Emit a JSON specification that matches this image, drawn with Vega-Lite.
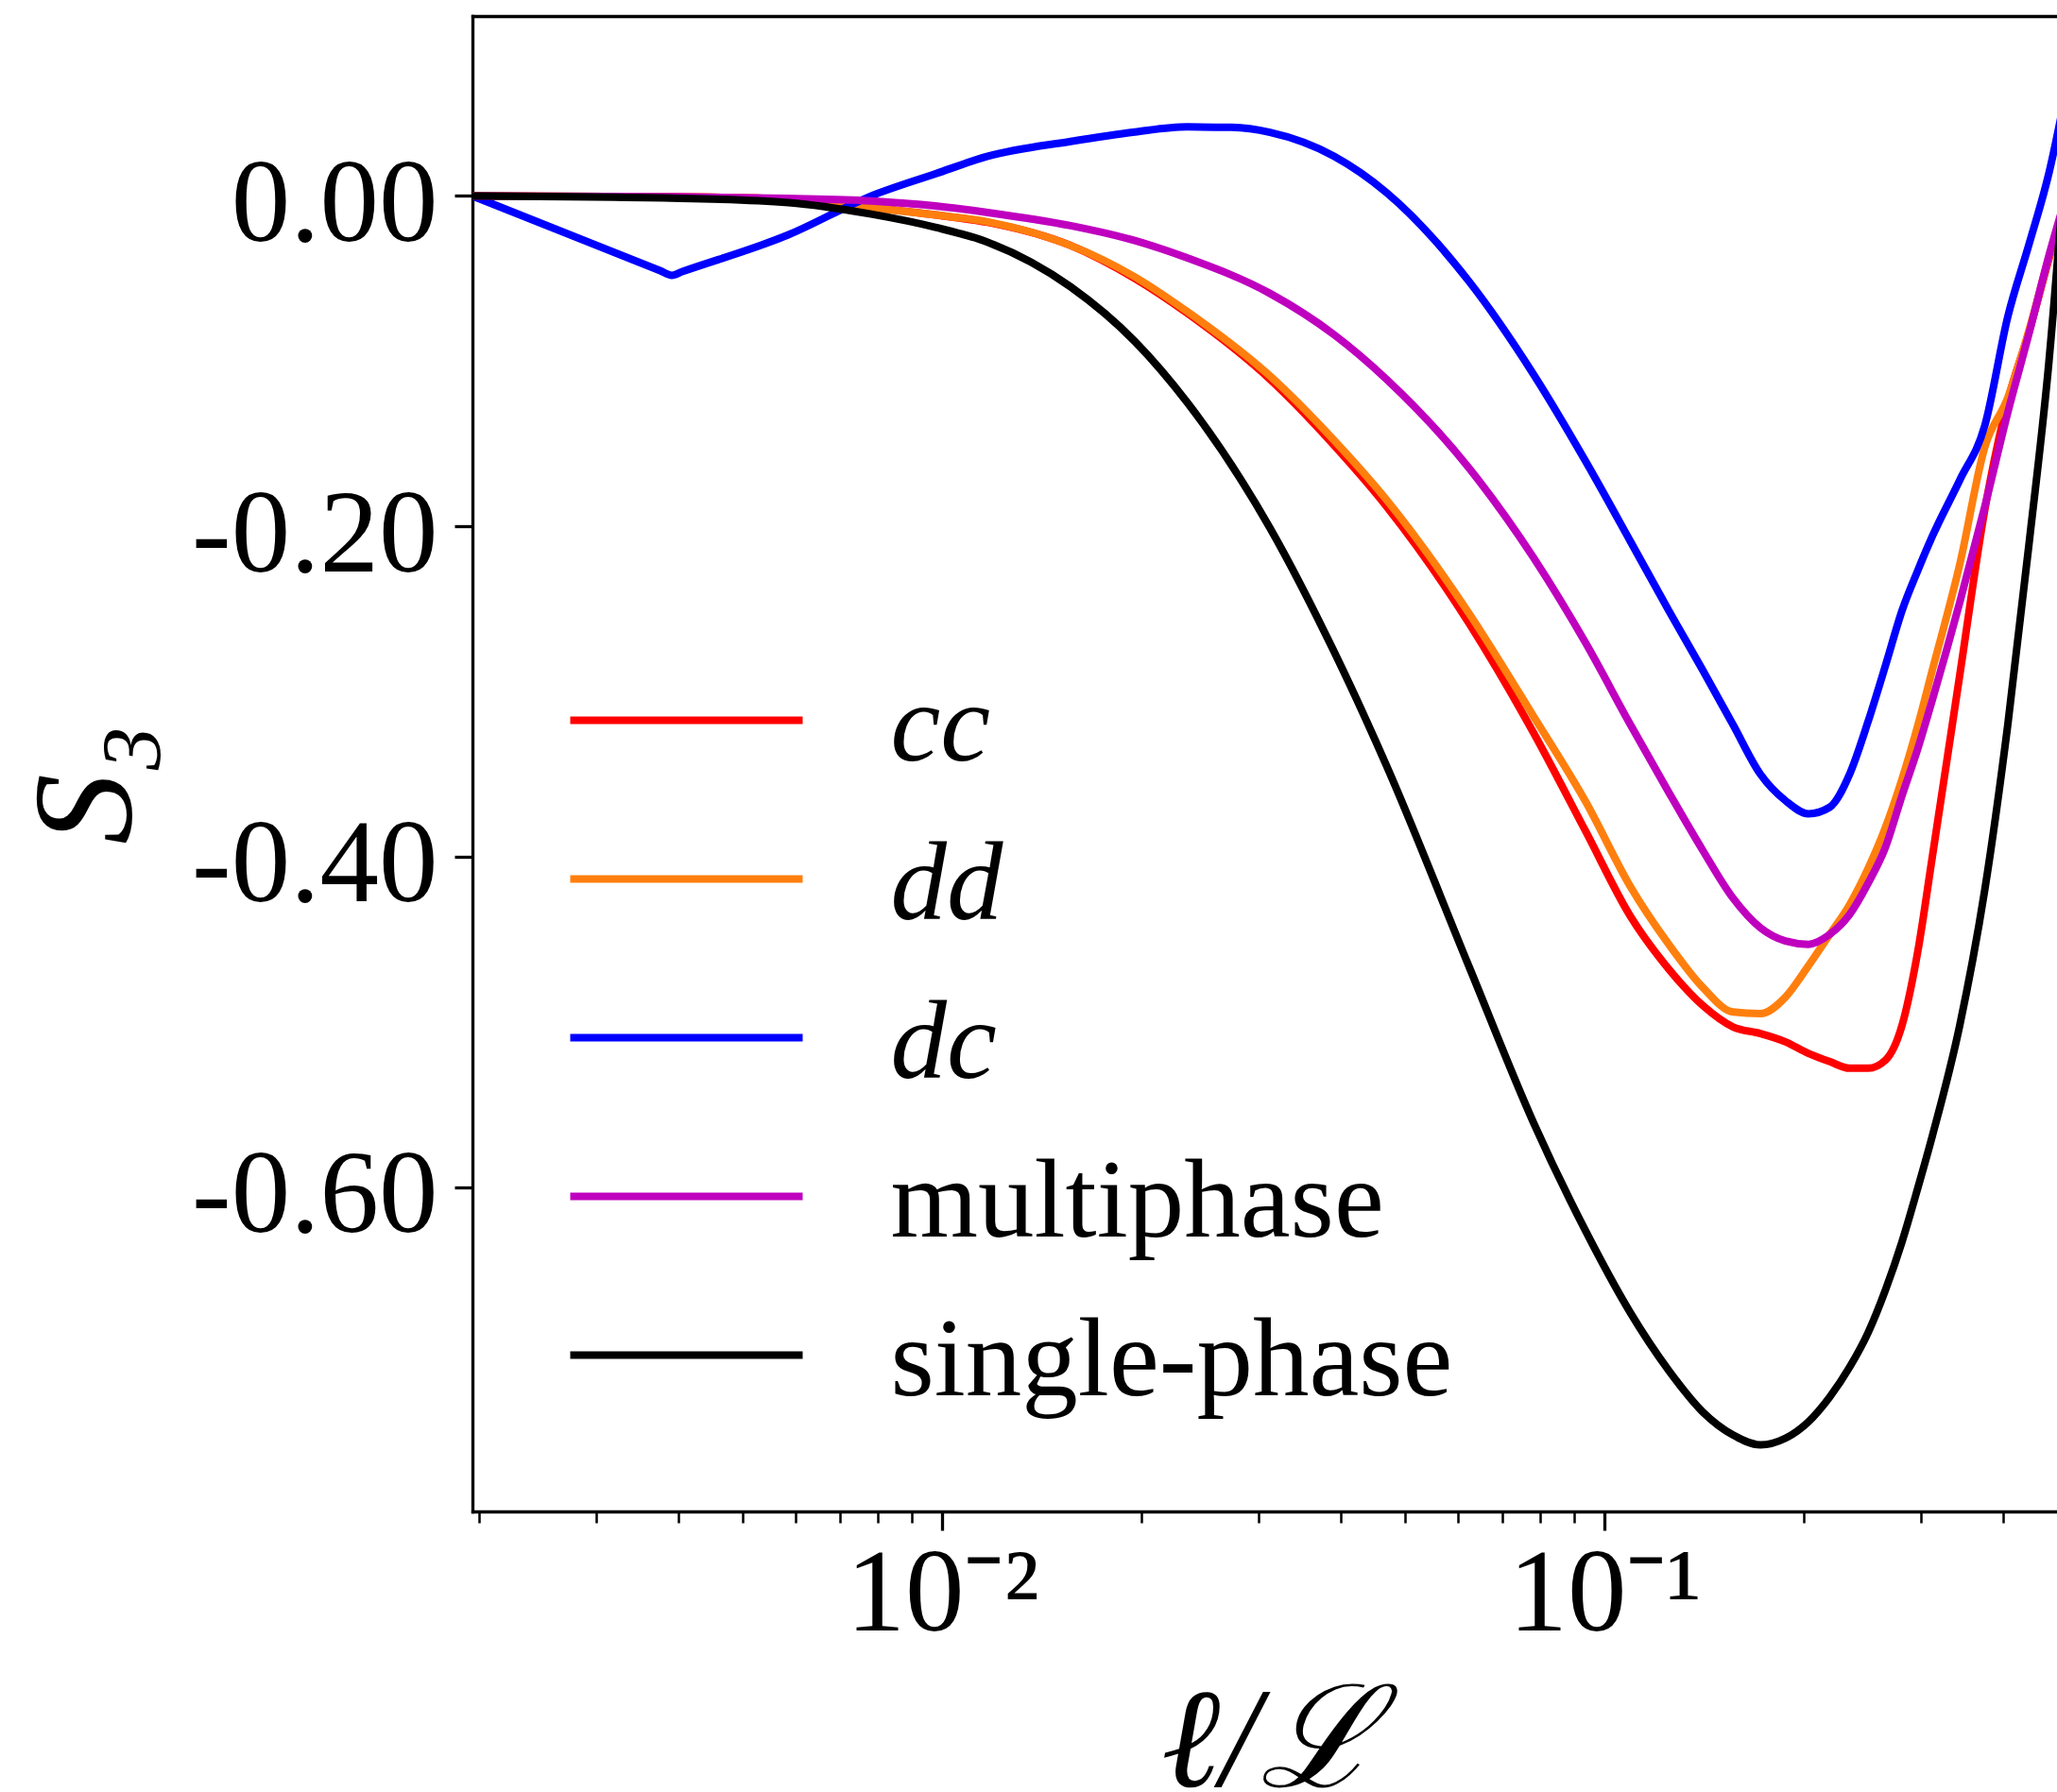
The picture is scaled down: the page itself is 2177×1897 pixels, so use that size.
{
  "$schema": "https://vega.github.io/schema/vega-lite/v6.json",
  "width": 1677,
  "height": 1583,
  "autosize": {"type": "none"},
  "padding": {"left": 500, "top": 17, "right": 0, "bottom": 297},
  "background": "white",
  "config": {
    "view": {"stroke": null},
    "font": "Liberation Serif",
    "axis": {
      "domainColor": "black", "tickColor": "black", "labelColor": "black", "titleColor": "black",
      "labelFont": "Liberation Serif", "titleFont": "Liberation Serif",
      "grid": false, "labelFlush": false, "labelOverlap": false, "labelBound": false, "labelLimit": 2000, "titleLimit": 2000,
      "domainWidth": 3.3, "domainCap": "square", "tickWidth": 3.3, "titleFontWeight": "normal", "zindex": 1
    }
  },
  "datasets": {
    "curves": [
      {"series":"cc","l":0.001953125,"S":0},{"series":"cc","l":0.00390625,"S":-0.0005},{"series":"cc","l":0.005859375,"S":-0.002},{"series":"cc","l":0.0078125,"S":-0.007},{"series":"cc","l":0.009765625,"S":-0.0115},{"series":"cc","l":0.01171875,"S":-0.016},{"series":"cc","l":0.015625,"S":-0.030},{"series":"cc","l":0.01953125,"S":-0.050},{"series":"cc","l":0.0234375,"S":-0.071},{"series":"cc","l":0.03125,"S":-0.111},{"series":"cc","l":0.0390625,"S":-0.151},{"series":"cc","l":0.046875,"S":-0.188},{"series":"cc","l":0.0625,"S":-0.259},{"series":"cc","l":0.078125,"S":-0.325},{"series":"cc","l":0.09375,"S":-0.385},{"series":"cc","l":0.109375,"S":-0.436},{"series":"cc","l":0.125,"S":-0.468},{"series":"cc","l":0.140625,"S":-0.490},{"series":"cc","l":0.15625,"S":-0.503},{"series":"cc","l":0.171875,"S":-0.507},{"series":"cc","l":0.1875,"S":-0.512},{"series":"cc","l":0.203125,"S":-0.519},{"series":"cc","l":0.21875,"S":-0.524},{"series":"cc","l":0.234375,"S":-0.528},{"series":"cc","l":0.25,"S":-0.528},{"series":"cc","l":0.265625,"S":-0.523},{"series":"cc","l":0.28125,"S":-0.502},{"series":"cc","l":0.296875,"S":-0.458},{"series":"cc","l":0.3125,"S":-0.400},{"series":"cc","l":0.34375,"S":-0.290},{"series":"cc","l":0.375,"S":-0.190},{"series":"cc","l":0.40625,"S":-0.124},{"series":"cc","l":0.4375,"S":-0.082},{"series":"cc","l":0.46875,"S":-0.038},{"series":"cc","l":0.5,"S":0.002},
      {"series":"dd","l":0.001953125,"S":0},{"series":"dd","l":0.00390625,"S":-0.0005},{"series":"dd","l":0.005859375,"S":-0.002},{"series":"dd","l":0.0078125,"S":-0.007},{"series":"dd","l":0.009765625,"S":-0.0115},{"series":"dd","l":0.01171875,"S":-0.0157},{"series":"dd","l":0.015625,"S":-0.030},{"series":"dd","l":0.01953125,"S":-0.049},{"series":"dd","l":0.0234375,"S":-0.070},{"series":"dd","l":0.03125,"S":-0.109},{"series":"dd","l":0.0390625,"S":-0.148},{"series":"dd","l":0.046875,"S":-0.184},{"series":"dd","l":0.0625,"S":-0.253},{"series":"dd","l":0.078125,"S":-0.315},{"series":"dd","l":0.09375,"S":-0.367},{"series":"dd","l":0.109375,"S":-0.418},{"series":"dd","l":0.125,"S":-0.453},{"series":"dd","l":0.140625,"S":-0.479},{"series":"dd","l":0.15625,"S":-0.494},{"series":"dd","l":0.171875,"S":-0.495},{"series":"dd","l":0.1875,"S":-0.485},{"series":"dd","l":0.203125,"S":-0.466},{"series":"dd","l":0.21875,"S":-0.447},{"series":"dd","l":0.234375,"S":-0.429},{"series":"dd","l":0.25,"S":-0.407},{"series":"dd","l":0.265625,"S":-0.382},{"series":"dd","l":0.28125,"S":-0.353},{"series":"dd","l":0.296875,"S":-0.321},{"series":"dd","l":0.3125,"S":-0.287},{"series":"dd","l":0.34375,"S":-0.223},{"series":"dd","l":0.375,"S":-0.152},{"series":"dd","l":0.40625,"S":-0.122},{"series":"dd","l":0.4375,"S":-0.081},{"series":"dd","l":0.46875,"S":-0.037},{"series":"dd","l":0.5,"S":0.002},
      {"series":"dc","l":0.001953125,"S":0},{"series":"dc","l":0.00375,"S":-0.0452},{"series":"dc","l":0.00390625,"S":-0.048},{"series":"dc","l":0.00405,"S":-0.0458},{"series":"dc","l":0.005859375,"S":-0.0235},{"series":"dc","l":0.0078125,"S":0.0},{"series":"dc","l":0.009765625,"S":0.0134},{"series":"dc","l":0.01171875,"S":0.024},{"series":"dc","l":0.015625,"S":0.033},{"series":"dc","l":0.01953125,"S":0.0387},{"series":"dc","l":0.0234375,"S":0.0418},{"series":"dc","l":0.02734375,"S":0.0415},{"series":"dc","l":0.03125,"S":0.0385},{"series":"dc","l":0.0390625,"S":0.024},{"series":"dc","l":0.046875,"S":0.002},{"series":"dc","l":0.0625,"S":-0.052},{"series":"dc","l":0.078125,"S":-0.108},{"series":"dc","l":0.09375,"S":-0.161},{"series":"dc","l":0.109375,"S":-0.209},{"series":"dc","l":0.125,"S":-0.251},{"series":"dc","l":0.140625,"S":-0.287},{"series":"dc","l":0.15625,"S":-0.320},{"series":"dc","l":0.171875,"S":-0.350},{"series":"dc","l":0.1875,"S":-0.366},{"series":"dc","l":0.203125,"S":-0.374},{"series":"dc","l":0.21875,"S":-0.370},{"series":"dc","l":0.234375,"S":-0.350},{"series":"dc","l":0.25,"S":-0.318},{"series":"dc","l":0.265625,"S":-0.284},{"series":"dc","l":0.28125,"S":-0.251},{"series":"dc","l":0.296875,"S":-0.227},{"series":"dc","l":0.3125,"S":-0.206},{"series":"dc","l":0.34375,"S":-0.172},{"series":"dc","l":0.375,"S":-0.139},{"series":"dc","l":0.40625,"S":-0.073},{"series":"dc","l":0.4375,"S":-0.029},{"series":"dc","l":0.46875,"S":0.014},{"series":"dc","l":0.5,"S":0.068},
      {"series":"multiphase","l":0.001953125,"S":0},{"series":"multiphase","l":0.00390625,"S":-0.0005},{"series":"multiphase","l":0.005859375,"S":-0.0015},{"series":"multiphase","l":0.0078125,"S":-0.003},{"series":"multiphase","l":0.009765625,"S":-0.006},{"series":"multiphase","l":0.01171875,"S":-0.010},{"series":"multiphase","l":0.015625,"S":-0.018},{"series":"multiphase","l":0.01953125,"S":-0.027},{"series":"multiphase","l":0.0234375,"S":-0.0375},{"series":"multiphase","l":0.03125,"S":-0.059},{"series":"multiphase","l":0.0390625,"S":-0.084},{"series":"multiphase","l":0.046875,"S":-0.111},{"series":"multiphase","l":0.0625,"S":-0.165},{"series":"multiphase","l":0.078125,"S":-0.219},{"series":"multiphase","l":0.09375,"S":-0.271},{"series":"multiphase","l":0.109375,"S":-0.320},{"series":"multiphase","l":0.125,"S":-0.361},{"series":"multiphase","l":0.140625,"S":-0.396},{"series":"multiphase","l":0.15625,"S":-0.425},{"series":"multiphase","l":0.171875,"S":-0.443},{"series":"multiphase","l":0.1875,"S":-0.451},{"series":"multiphase","l":0.203125,"S":-0.453},{"series":"multiphase","l":0.21875,"S":-0.447},{"series":"multiphase","l":0.234375,"S":-0.435},{"series":"multiphase","l":0.25,"S":-0.416},{"series":"multiphase","l":0.265625,"S":-0.394},{"series":"multiphase","l":0.28125,"S":-0.363},{"series":"multiphase","l":0.296875,"S":-0.335},{"series":"multiphase","l":0.3125,"S":-0.305},{"series":"multiphase","l":0.34375,"S":-0.246},{"series":"multiphase","l":0.375,"S":-0.188},{"series":"multiphase","l":0.40625,"S":-0.131},{"series":"multiphase","l":0.4375,"S":-0.083},{"series":"multiphase","l":0.46875,"S":-0.036},{"series":"multiphase","l":0.5,"S":0.003},
      {"series":"single-phase","l":0.001953125,"S":0},{"series":"single-phase","l":0.00390625,"S":-0.0013},{"series":"single-phase","l":0.005859375,"S":-0.004},{"series":"single-phase","l":0.0078125,"S":-0.011},{"series":"single-phase","l":0.009765625,"S":-0.019},{"series":"single-phase","l":0.01171875,"S":-0.028},{"series":"single-phase","l":0.015625,"S":-0.055},{"series":"single-phase","l":0.01953125,"S":-0.088},{"series":"single-phase","l":0.0234375,"S":-0.125},{"series":"single-phase","l":0.03125,"S":-0.201},{"series":"single-phase","l":0.0390625,"S":-0.276},{"series":"single-phase","l":0.046875,"S":-0.345},{"series":"single-phase","l":0.0625,"S":-0.467},{"series":"single-phase","l":0.078125,"S":-0.561},{"series":"single-phase","l":0.09375,"S":-0.627},{"series":"single-phase","l":0.109375,"S":-0.676},{"series":"single-phase","l":0.125,"S":-0.711},{"series":"single-phase","l":0.140625,"S":-0.736},{"series":"single-phase","l":0.15625,"S":-0.750},{"series":"single-phase","l":0.171875,"S":-0.756},{"series":"single-phase","l":0.1875,"S":-0.752},{"series":"single-phase","l":0.203125,"S":-0.742},{"series":"single-phase","l":0.21875,"S":-0.727},{"series":"single-phase","l":0.234375,"S":-0.709},{"series":"single-phase","l":0.25,"S":-0.688},{"series":"single-phase","l":0.265625,"S":-0.662},{"series":"single-phase","l":0.28125,"S":-0.633},{"series":"single-phase","l":0.296875,"S":-0.601},{"series":"single-phase","l":0.3125,"S":-0.569},{"series":"single-phase","l":0.34375,"S":-0.502},{"series":"single-phase","l":0.375,"S":-0.420},{"series":"single-phase","l":0.40625,"S":-0.320},{"series":"single-phase","l":0.4375,"S":-0.210},{"series":"single-phase","l":0.46875,"S":-0.100},{"series":"single-phase","l":0.5,"S":0.040}
    ]
  },
  "layer": [
    {
      "data": {"name": "curves"},
      "mark": {"type": "line", "strokeWidth": 8, "clip": true, "strokeJoin": "round", "interpolate": "monotone"},
      "encoding": {
        "x": {
          "field": "l", "type": "quantitative",
          "scale": {"type": "log", "domain": [0.001953125, 0.482], "nice": false},
          "axis": {
            "orient": "bottom", "values": [0.01, 0.1],
            "labelExpr": "datum.value < 0.05 ? '10⁻²' : '10⁻¹'",
            "labelFontSize": 125, "labelBaseline": "alphabetic", "labelAlign": "center", "labelPadding": 105,
            "tickSize": 20,
            "title": "ℓ/ℒ", "titleFontSize": 150, "titleFontStyle": "italic",
            "titleX": 843, "titleY": 290, "titleAlign": "center", "titleBaseline": "alphabetic", "titleAngle": 0
          }
        },
        "y": {
          "field": "S", "type": "quantitative",
          "scale": {"domain": [-0.7963, 0.1089], "nice": false, "zero": false},
          "axis": {
            "orient": "left", "values": [0, -0.2, -0.4, -0.6],
            "labelExpr": "replace(format(datum.value, '.2f'), '−', '-')",
            "labelFontSize": 125, "labelBaseline": "alphabetic", "labelOffset": 47, "labelPadding": 18,
            "tickSize": 19,
            "title": "S₃", "titleFontSize": 150, "titleFontStyle": "italic",
            "titleAngle": -90, "titleX": -362, "titleY": 813, "titleAlign": "center", "titleBaseline": "alphabetic"
          }
        },
        "color": {
          "field": "series", "type": "nominal",
          "scale": {
            "domain": ["cc", "dd", "dc", "multiphase", "single-phase"],
            "range": ["#ff0000", "#ff7f0e", "#0000ff", "#bf00bf", "#000000"]
          },
          "legend": {
            "orient": "none", "legendX": 125, "legendY": 644, "direction": "vertical", "columns": 1,
            "title": null, "padding": 0,
            "symbolType": "M-1.2615,0H1.2615", "symbolSize": 38025, "symbolStrokeWidth": 8,
            "labelFont": "Liberation Serif", "labelFontSize": 119, "labelColor": "black",
            "labelOffset": 114.5, "labelLimit": 0, "rowPadding": 0,
            "encode": {
              "labels": {
                "update": {
                  "fontStyle": {"signal": "indexof(['cc','dd','dc'], datum.label) >= 0 ? 'italic' : 'normal'"},
                  "dy": {"value": 6}
                }
              }
            }
          }
        }
      }
    },
    {
      "data": {"values": [{"t": 0.002}, {"t": 0.003}, {"t": 0.004}, {"t": 0.005}, {"t": 0.006}, {"t": 0.007}, {"t": 0.008}, {"t": 0.009}, {"t": 0.02}, {"t": 0.03}, {"t": 0.04}, {"t": 0.05}, {"t": 0.06}, {"t": 0.07}, {"t": 0.08}, {"t": 0.09}, {"t": 0.2}, {"t": 0.3}, {"t": 0.4}]},
      "mark": {"type": "rule", "opacity": 0},
      "encoding": {
        "x": {
          "field": "t", "type": "quantitative",
          "scale": {"type": "log", "domain": [0.001953125, 0.482], "nice": false},
          "axis": {
            "orient": "bottom",
            "values": [0.002, 0.003, 0.004, 0.005, 0.006, 0.007, 0.008, 0.009, 0.02, 0.03, 0.04, 0.05, 0.06, 0.07, 0.08, 0.09, 0.2, 0.3, 0.4],
            "labels": false, "domain": false, "tickSize": 12, "tickWidth": 2.5, "title": null
          }
        }
      }
    },
    {
      "data": {"values": [{"t": 0.01}]},
      "mark": {"type": "rule", "opacity": 0},
      "encoding": {
        "x": {
          "field": "t", "type": "quantitative",
          "scale": {"type": "log", "domain": [0.001953125, 0.482], "nice": false},
          "axis": {"orient": "top", "ticks": false, "labels": false, "domain": true, "title": null}
        }
      }
    }
  ],
  "resolve": {"axis": {"x": "independent"}}
}
